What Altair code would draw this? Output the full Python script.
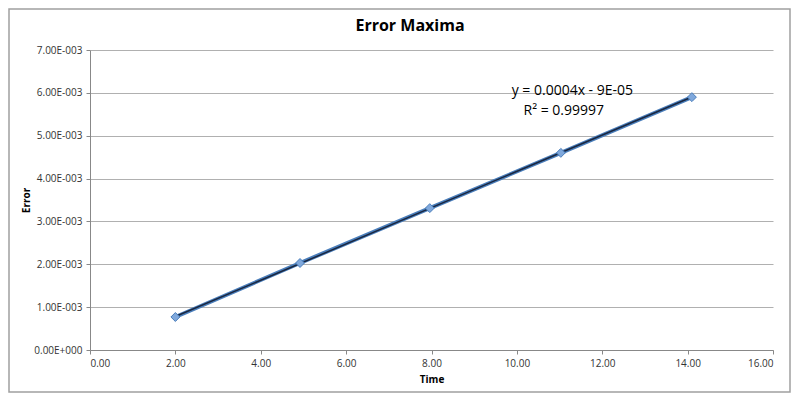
import altair as alt
import pandas as pd

time = [2.0, 4.92, 7.96, 11.03, 14.1]
error = [0.00077, 0.00203, 0.00331, 0.00460, 0.00590]

eq_x = [11.3, 11.1]
eq_y = [0.00604, 0.00558]
eq_text = ["y = 0.0004x - 9E-05", "R² = 0.99997"]

df = pd.DataFrame({"Time": time, "Error": error})
ann = pd.DataFrame({"x": eq_x, "y": eq_y, "t": eq_text})

FONT = "Open Sans"

xscale = alt.Scale(domain=[0, 16], nice=False, zero=True)
yscale = alt.Scale(domain=[0, 0.007], nice=False)

xaxis = alt.Axis(values=list(range(0, 17, 2)), format=".2f", grid=False,
                 domainColor="#888888", tickColor="#888888", tickSize=4,
                 labelFont=FONT, labelFontSize=10, labelColor="#333333",
                 labelPadding=4, title="Time", titleFont=FONT, titleFontSize=10,
                 titleFontWeight="bold", titlePadding=6, titleColor="#000000")
yaxis = alt.Axis(values=[i / 1000 for i in range(0, 8)],
                 labelExpr="datum.value == 0 ? '0.00E+000' : format(datum.value*1000, '.2f') + 'E-003'",
                 grid=True, gridColor="#b0b0b0", domainColor="#888888",
                 tickColor="#888888", tickSize=4, labelFont=FONT, labelFontSize=10,
                 labelColor="#333333", labelPadding=4, title="Error", titleFont=FONT,
                 titleFontSize=10, titleFontWeight="bold", titlePadding=2,
                 titleColor="#000000")

base = alt.Chart(df)
one = pd.DataFrame({"a": [0]})

border = alt.Chart(one).mark_rect(
    fill=None, stroke="#a0a0a0", strokeWidth=1.5, clip=False
).encode(x=alt.value(-81), x2=alt.value(700), y=alt.value(-41), y2=alt.value(342))

title = alt.Chart(pd.DataFrame({"t": ["Error Maxima"]})).mark_text(
    font=FONT, fontSize=16, fontWeight="bold", color="#000000",
    align="center", baseline="middle"
).encode(x=alt.value(320), y=alt.value(-24), text="t:N")

series = base.mark_line(color="#4a7ebb", strokeWidth=4).encode(
    x=alt.X("Time:Q", scale=xscale, axis=xaxis),
    y=alt.Y("Error:Q", scale=yscale, axis=yaxis),
)

trend = base.transform_regression("Time", "Error", method="linear").mark_line(
    color="#1a2740", strokeWidth=1.5
).encode(x=alt.X("Time:Q", scale=xscale), y=alt.Y("Error:Q", scale=yscale))

points = base.mark_point(shape="diamond", filled=True, size=80, fill="#7fa8dc",
                         stroke="#4a7ebb", strokeWidth=1, opacity=1).encode(
    x=alt.X("Time:Q", scale=xscale), y=alt.Y("Error:Q", scale=yscale))

text = alt.Chart(ann).mark_text(font=FONT, fontSize=14, color="#000000",
                                align="center", baseline="middle").encode(
    x=alt.X("x:Q", scale=xscale), y=alt.Y("y:Q", scale=yscale), text="t:N")

chart = alt.layer(border, title, series, trend, points, text).properties(
    width=683, height=300,
    autosize=alt.AutoSizeParams(type="none"),
    padding={"left": 82, "top": 42, "right": 19, "bottom": 44},
).configure_view(stroke=None)

chart.save("out.html", embed_options={"renderer": "svg", "actions": False})
